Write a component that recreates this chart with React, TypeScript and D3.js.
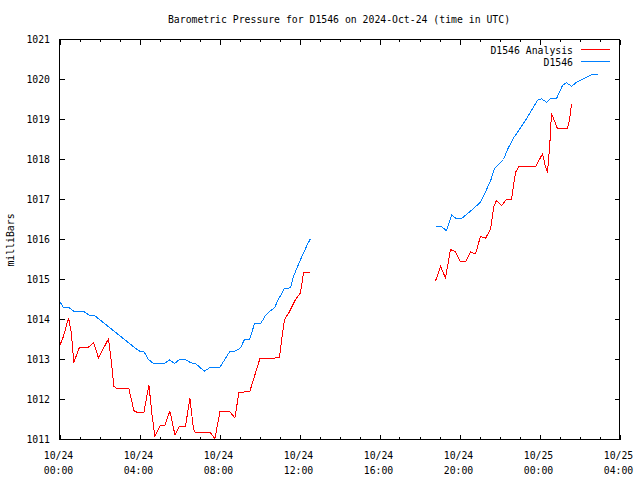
import React from "react";
import * as d3 from "d3";

const title = "Barometric Pressure for D1546 on 2024-Oct-24 (time in UTC)";
const yLabel = "milliBars";
const seriesNames = ["D1546 Analysis", "D1546"];
const seriesColors = ["#ff0000", "#0080ff"];

// hours since 2024-10-24 00:00 UTC
const xTickHours = [0, 4, 8, 12, 16, 20, 24, 28];
const xTickDates = ["10/24", "10/24", "10/24", "10/24", "10/24", "10/24", "10/25", "10/25"];
const xTickTimes = ["00:00", "04:00", "08:00", "12:00", "16:00", "20:00", "00:00", "04:00"];
const yTicks = [1011, 1012, 1013, 1014, 1015, 1016, 1017, 1018, 1019, 1020, 1021];

// D1546 Analysis (red), two segments
const redHours1 = [0.0, 0.2, 0.45, 0.58, 0.72, 0.77, 1.0, 1.45, 1.7, 1.95, 2.45, 2.58, 2.72, 2.88, 3.47, 3.72, 3.92, 4.22, 4.47, 4.63, 4.77, 5.05, 5.27, 5.52, 5.77, 6.0, 6.3, 6.52, 6.7, 6.8, 7.55, 7.77, 8.02, 8.52, 8.77, 8.97, 9.52, 10.02, 10.6, 11.0, 11.13, 11.25, 11.47, 11.8, 12.05, 12.2, 12.52];
const redValues1 = [1013.33, 1013.58, 1014.04, 1013.71, 1012.92, 1013.0, 1013.31, 1013.31, 1013.42, 1013.04, 1013.52, 1013.0, 1012.33, 1012.27, 1012.27, 1011.72, 1011.67, 1011.67, 1012.37, 1011.6, 1011.08, 1011.36, 1011.36, 1011.71, 1011.12, 1011.33, 1011.33, 1012.04, 1011.25, 1011.17, 1011.17, 1011.02, 1011.69, 1011.69, 1011.54, 1012.17, 1012.21, 1013.02, 1013.02, 1013.06, 1013.58, 1014.0, 1014.17, 1014.5, 1014.67, 1015.17, 1015.17];
const redHours2 = [18.8, 19.05, 19.3, 19.55, 19.8, 20.05, 20.3, 20.55, 20.8, 21.05, 21.3, 21.55, 21.72, 21.85, 22.1, 22.35, 22.6, 22.8, 22.97, 23.8, 24.15, 24.3, 24.4, 24.52, 24.6, 24.72, 24.9, 25.4, 25.5, 25.6];
const redValues2 = [1014.96, 1015.33, 1015.04, 1015.75, 1015.69, 1015.44, 1015.44, 1015.69, 1015.64, 1016.08, 1016.03, 1016.25, 1016.83, 1016.98, 1016.85, 1017.0, 1017.0, 1017.68, 1017.82, 1017.82, 1018.14, 1017.82, 1017.67, 1018.42, 1019.15, 1019.0, 1018.77, 1018.77, 1019.0, 1019.38];

// D1546 (blue), two segments
const blueHours1 = [0.0, 0.2, 0.5, 0.75, 1.25, 1.5, 1.75, 2.0, 2.25, 2.5, 2.75, 3.0, 3.25, 3.5, 3.75, 4.0, 4.2, 4.45, 4.7, 5.25, 5.5, 5.75, 6.0, 6.3, 6.55, 6.8, 7.05, 7.25, 7.5, 8.0, 8.5, 8.75, 9.05, 9.25, 9.5, 9.75, 10.05, 10.3, 10.5, 10.75, 10.9, 11.25, 11.55, 11.7, 12.05, 12.4, 12.55];
const blueValues1 = [1014.47, 1014.29, 1014.29, 1014.19, 1014.19, 1014.1, 1014.1, 1014.0, 1013.9, 1013.8, 1013.7, 1013.6, 1013.5, 1013.4, 1013.3, 1013.21, 1013.21, 1013.0, 1012.9, 1012.9, 1012.99, 1012.9, 1013.0, 1013.0, 1012.92, 1012.9, 1012.79, 1012.71, 1012.79, 1012.79, 1013.19, 1013.2, 1013.29, 1013.5, 1013.5, 1013.89, 1013.89, 1014.1, 1014.2, 1014.29, 1014.46, 1014.78, 1014.79, 1015.08, 1015.5, 1015.88, 1016.02];
const blueHours2 = [18.8, 19.1, 19.35, 19.6, 19.85, 20.1, 20.55, 21.05, 21.55, 21.75, 22.05, 22.2, 22.4, 22.7, 22.9, 23.3, 23.9, 24.1, 24.35, 24.55, 24.85, 25.15, 25.35, 25.6, 25.85, 26.2, 26.6, 26.9];
const blueValues2 = [1016.32, 1016.32, 1016.22, 1016.61, 1016.52, 1016.52, 1016.71, 1016.93, 1017.46, 1017.77, 1017.92, 1018.0, 1018.25, 1018.54, 1018.68, 1018.98, 1019.48, 1019.52, 1019.43, 1019.52, 1019.52, 1019.85, 1019.92, 1019.83, 1019.93, 1020.02, 1020.12, 1020.12];

const W = 640;
const H = 480;
const left = 59.5;
const right = 619.5;
const top = 39.5;
const bottom = 439.5;
const FONT = "'DejaVu Sans Mono', 'Liberation Mono', monospace";
const FS = 9.8;

export default function App() {
  const x = d3.scaleLinear().domain([0, 28]).range([left, right]);
  const y = d3.scaleLinear().domain([1011, 1021]).range([bottom, top]);

  const line = d3
    .line<[number, number]>()
    .x((d) => x(d[0]))
    .y((d) => y(d[1]));

  const zip = (h: number[], v: number[]) => h.map((t, i) => [t, v[i]] as [number, number]);

  const redSegs = [zip(redHours1, redValues1), zip(redHours2, redValues2)];
  const blueSegs = [zip(blueHours1, blueValues1), zip(blueHours2, blueValues2)];

  const minorHours = d3.range(0, 29, 1);

  return (
    <svg
      width={W}
      height={H}
      style={{ position: "absolute", left: 0, top: 0, background: "#fff" }}
      fontFamily={FONT}
      fontSize={FS}
    >
      <rect x={0} y={0} width={W} height={H} fill="#fff" />
      {/* ticks */}
      <g stroke="#000" strokeWidth={1} shapeRendering="crispEdges">
        {minorHours.map((h) => {
          const major = h % 4 === 0;
          const len = major ? 5 : 2.5;
          const xx = Math.round(x(h)) + 0.5;
          return (
            <g key={"xt" + h}>
              <line x1={xx} x2={xx} y1={bottom} y2={bottom - len} />
              <line x1={xx} x2={xx} y1={top} y2={top + len} />
            </g>
          );
        })}
        {yTicks.map((v) => {
          const yy = Math.round(y(v) - 0.5) + 0.5;
          return (
            <g key={"yt" + v}>
              <line x1={left} x2={left + 5} y1={yy} y2={yy} />
              <line x1={right} x2={right - 5} y1={yy} y2={yy} />
            </g>
          );
        })}
      </g>
      {/* data */}
      <g fill="none" strokeWidth={1} shapeRendering="crispEdges">
        {redSegs.map((s, i) => (
          <path key={"r" + i} d={line(s) || ""} stroke={seriesColors[0]} />
        ))}
        {blueSegs.map((s, i) => (
          <path key={"b" + i} d={line(s) || ""} stroke={seriesColors[1]} />
        ))}
      </g>
      {/* frame */}
      <rect
        x={left}
        y={top}
        width={right - left}
        height={bottom - top}
        fill="none"
        stroke="#000"
        strokeWidth={1}
        shapeRendering="crispEdges"
      />
      {/* y tick labels */}
      {yTicks.map((v) => (
        <text key={"yl" + v} x={50} y={y(v) + 3.5} textAnchor="end" fill="#000">
          {v}
        </text>
      ))}
      {/* x tick labels */}
      {xTickHours.map((h, i) => (
        <g key={"xl" + h}>
          <text x={x(h) - 1} y={459} textAnchor="middle" fill="#000">
            {xTickDates[i]}
          </text>
          <text x={x(h) - 1} y={474} textAnchor="middle" fill="#000">
            {xTickTimes[i]}
          </text>
        </g>
      ))}
      {/* title */}
      <text x={339} y={23} textAnchor="middle" fill="#000">
        {title}
      </text>
      {/* y axis label */}
      <text
        transform={`translate(13.5,240) rotate(-90)`}
        textAnchor="middle"
        fill="#000"
      >
        {yLabel}
      </text>
      {/* legend */}
      {seriesNames.map((n, i) => (
        <g key={"lg" + i}>
          <text x={573} y={53.5 + i * 12.3} textAnchor="end" fill="#000">
            {n}
          </text>
          <line
            x1={581}
            x2={610}
            y1={49.5 + i * 12.3}
            y2={49.5 + i * 12.3}
            stroke={seriesColors[i]}
            strokeWidth={1}
            shapeRendering="crispEdges"
          />
        </g>
      ))}
    </svg>
  );
}
